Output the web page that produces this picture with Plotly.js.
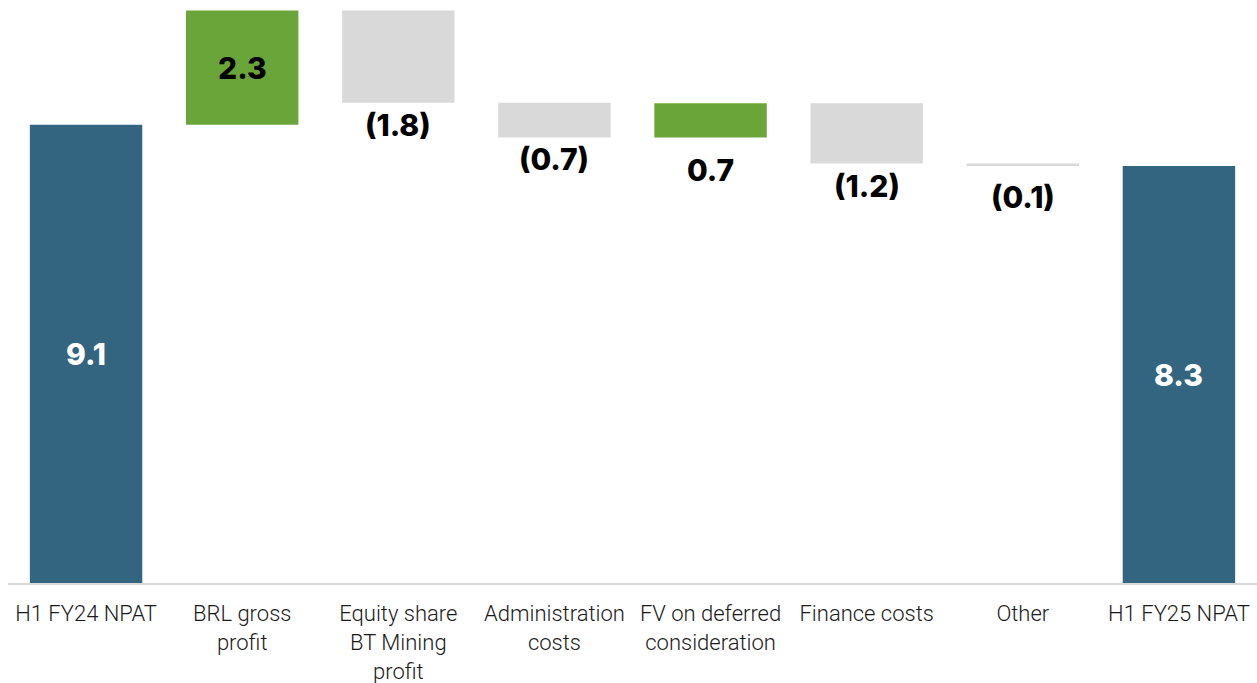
<!DOCTYPE html>
<html>
<head>
<meta charset="utf-8">
<script src="https://cdn.plot.ly/plotly-3.0.1.min.js"></script>
<style>html,body{margin:0;padding:0;background:#fff;}#chart{width:1257px;height:683px;}</style>
</head>
<body>
<div id="chart"></div>
<script>
// ---- data ----
var categories = ["H1 FY24 NPAT", "BRL gross<br>profit", "Equity share<br>BT Mining<br>profit", "Administration<br>costs", "FV on deferred<br>consideration", "Finance costs", "Other", "H1 FY25 NPAT"];
var measures = ["absolute", "relative", "relative", "relative", "relative", "relative", "relative", "total"];
var values = [9.1, 2.27, -1.83, -0.69, 0.68, -1.2, -0.05, null];

// ---- styles ----
var COLOR_TOTAL = "#336580";
var COLOR_UP = "#6aa539";
var COLOR_DOWN = "#d9d9d9";
var labelFont = "Inter, 'DejaVu Sans', sans-serif";

// compute bases / heights from data
var bases = [], heights = [], colors = [], running = 0;
for (var i = 0; i < categories.length; i++) {
  var m = measures[i], v = values[i];
  if (m === "absolute") { bases.push(0); heights.push(v); running = v; colors.push(COLOR_TOTAL); }
  else if (m === "total") { bases.push(0); heights.push(running); colors.push(COLOR_TOTAL); }
  else {
    if (v >= 0) { bases.push(running); heights.push(v); colors.push(COLOR_UP); }
    else { bases.push(running + v); heights.push(-v); colors.push(COLOR_DOWN); }
    running += v;
  }
}
function fmt(v) {
  var s = Math.abs(v).toFixed(1);
  return v < 0 ? "(" + s + ")" : s;
}
// label placement style per bar: "inside" or "below", with extra offset
var labelMode = ["inside", "inside", "below", "below", "below", "below", "below", "inside"];
var belowShift = [0, 0, 22, 22, 33, 22, 31, 0];

var annotations = [];
for (var j = 0; j < categories.length; j++) {
  var val = measures[j] === "total" ? heights[j] : values[j];
  var txt = fmt(val);
  if (labelMode[j] === "inside") {
    annotations.push({x: j, y: bases[j] + heights[j] / 2, xref: "x", yref: "y", text: txt, showarrow: false,
      yanchor: "middle", font: {family: labelFont, size: 30, weight: 800, color: colors[j] === COLOR_TOTAL ? "#ffffff" : "#000000"}});
  } else {
    annotations.push({x: j, y: bases[j], xref: "x", yref: "y", text: txt, showarrow: false,
      yanchor: "middle", yshift: -belowShift[j], font: {family: labelFont, size: 30, weight: 800, color: "#000000"}});
  }
}

var trace = {
  type: "bar",
  x: categories.map(function (c, k) { return k; }),
  y: heights,
  base: bases,
  marker: {color: colors, line: {width: 0}},
  width: 0.72,
  hoverinfo: "none"
};

var layout = {
  width: 1257, height: 683,
  margin: {l: 8, r: 0, t: 4, b: 100, pad: 0},
  paper_bgcolor: "#ffffff", plot_bgcolor: "#ffffff",
  showlegend: false,
  xaxis: {
    tickmode: "array", tickvals: categories.map(function (c, k) { return k; }), ticktext: categories,
    range: [-0.5, categories.length - 0.5],
    showline: true, linecolor: "#d9d9d9", linewidth: 2,
    showgrid: false, zeroline: false, ticks: "",
    ticklabelstandoff: 10,
    tickfont: {family: "Roboto, 'Liberation Sans', sans-serif", size: 22, color: "#1a1a1a", weight: 300},
    tickangle: 0, fixedrange: true
  },
  yaxis: {range: [0, 11.5], visible: false, showgrid: false, zeroline: false, fixedrange: true},
  annotations: annotations
};

Plotly.newPlot("chart", [trace], layout, {staticPlot: true, displayModeBar: false});
</script>
</body>
</html>
